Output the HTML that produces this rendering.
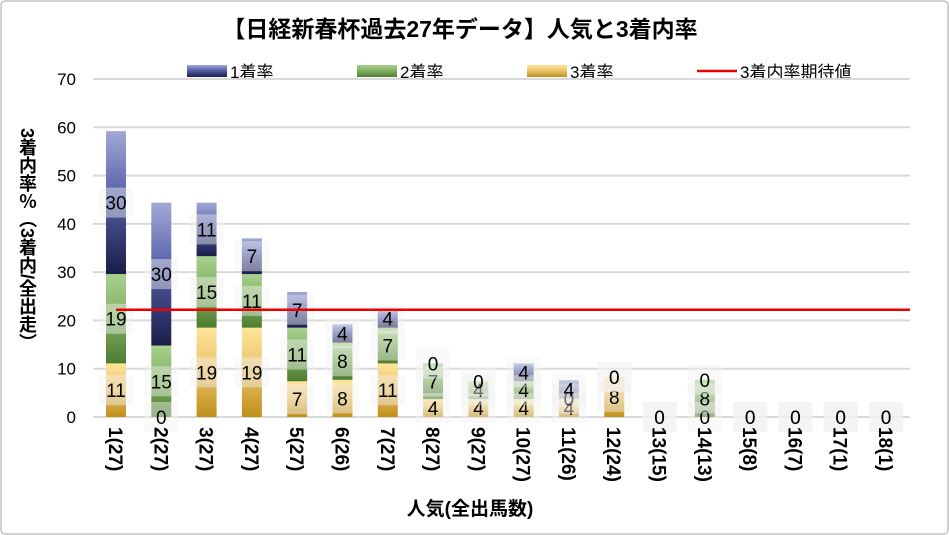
<!DOCTYPE html>
<html><head><meta charset="utf-8"><style>
body{margin:0;background:#fff;}
svg{display:block;font-family:"Liberation Sans","Noto Sans CJK JP",sans-serif;}
</style></head><body>
<svg id="c" width="949" height="535">
<defs>
<linearGradient id="gb" x1="0" y1="0" x2="0" y2="1"><stop offset="0" stop-color="#a3a9d6"/><stop offset="0.45" stop-color="#5560a8"/><stop offset="1" stop-color="#1a1d48"/></linearGradient>
<linearGradient id="gg" x1="0" y1="0" x2="0" y2="1"><stop offset="0" stop-color="#a8d18e"/><stop offset="0.5" stop-color="#7fae60"/><stop offset="1" stop-color="#4e7d32"/></linearGradient>
<linearGradient id="gy" x1="0" y1="0" x2="0" y2="1"><stop offset="0" stop-color="#ffe59a"/><stop offset="0.5" stop-color="#e8c068"/><stop offset="1" stop-color="#c08f1a"/></linearGradient>
</defs>
<rect x="1" y="1" width="947" height="533" rx="4" fill="#fff" stroke="#a6a6a6"/>
<text x="460" y="37" text-anchor="middle" font-size="23" font-weight="bold">【日経新春杯過去27年データ】人気と3着内率</text>
<g id="legend">
<rect x="187" y="65" width="40" height="12" fill="url(#gb)"/>
<text x="230" y="78" font-size="17">1着率</text>
<rect x="357" y="65" width="40" height="12" fill="url(#gg)"/>
<text x="400" y="78" font-size="17">2着率</text>
<rect x="527" y="65" width="40" height="12" fill="url(#gy)"/>
<text x="570" y="78" font-size="17">3着率</text>
<line x1="697" y1="71" x2="737" y2="71" stroke="#e00" stroke-width="2.5"/>
<text x="740" y="78" font-size="17">3着内率期待値</text>
</g>
<text x="27" y="128" font-size="18" font-weight="bold" style="writing-mode:vertical-rl">3着内率％（3着内/全出走）</text>
<text x="470" y="515" text-anchor="middle" font-size="19" font-weight="bold">人気(全出馬数)</text>
<g id="grid"></g><g id="bars"></g><g id="labels"></g>
</svg>
<script>
const categories=["1(27)","2(27)","3(27)","4(27)","5(27)","6(26)","7(27)","8(27)","9(27)","10(27)","11(26)","12(24)","13(15)","14(13)","15(8)","16(7)","17(1)","18(1)"];
const win=[29.6,29.6,11.1,7.4,7.4,3.8,3.7,0,0,3.7,3.8,0,0,0,0,0,0,0];
const second=[18.5,14.8,14.8,11.1,11.1,7.7,7.4,7.4,3.7,3.7,0,0,0,7.7,0,0,0,0];
const third=[11.1,0,18.5,18.5,7.4,7.7,11.1,3.7,3.7,3.7,3.8,8.3,0,0,0,0,0,0];
const expected=[22.2];
const yTicks=[0,10,20,30,40,50,60,70];
const NS="http://www.w3.org/2000/svg";
const y0=417,yTop=79,yMax=70,xL=93,xR=910;
const yS=v=>y0-(v/yMax)*(y0-yTop);
const xS=i=>116+i*(886-116)/(categories.length-1);
const bw=20;
function mk(tag,attrs,parent){const e=document.createElementNS(NS,tag);for(const k in attrs)e.setAttribute(k,attrs[k]);parent.appendChild(e);return e;}
const grid=document.getElementById('grid'),bars=document.getElementById('bars'),labels=document.getElementById('labels');
yTicks.forEach(t=>{
 const l=mk('line',{x1:xL,x2:xR,y1:yS(t),y2:yS(t),stroke:'#d9d9d9','stroke-width':2},grid);
 
 
 const tx=mk('text',{x:76,y:yS(t)+6,'text-anchor':'end','font-size':17},grid);
 tx.textContent=t;
 
 
});
const series=[[third,'url(#gy)','third'],[second,'url(#gg)','second'],[win,'url(#gb)','win']];
categories.forEach((c,i)=>{
 let base=0;
 const x=xS(i);
 series.forEach(([arr,fill,nm])=>{
  const v=arr[i];
  if(v>0){
   const r=mk('rect',{x:x-bw/2,y:yS(base+v),width:bw,height:yS(base)-yS(base+v),fill:fill},bars);
   
   
  }
  const cy=yS(base+v/2);
  const bg=mk('rect',{x:x-17,y:cy-15,width:34,height:30,fill:'#f2f2f2','fill-opacity':0.45},labels);
  
  
  const t=mk('text',{x:x,y:cy+7,'text-anchor':'middle','font-size':19},labels);
  t.textContent=Math.round(v);
  
  
  base+=v;
 });
 const xl=mk('text',{transform:`translate(${x-7},427) rotate(90)`,'font-size':19,'font-weight':'bold'},labels);
 xl.textContent=c;
 
 
});
const ln=mk('line',{x1:xS(0),x2:xR,y1:yS(expected[0]),y2:yS(expected[0]),stroke:'#e00','stroke-width':2.5},labels);


</script>
</body></html>
